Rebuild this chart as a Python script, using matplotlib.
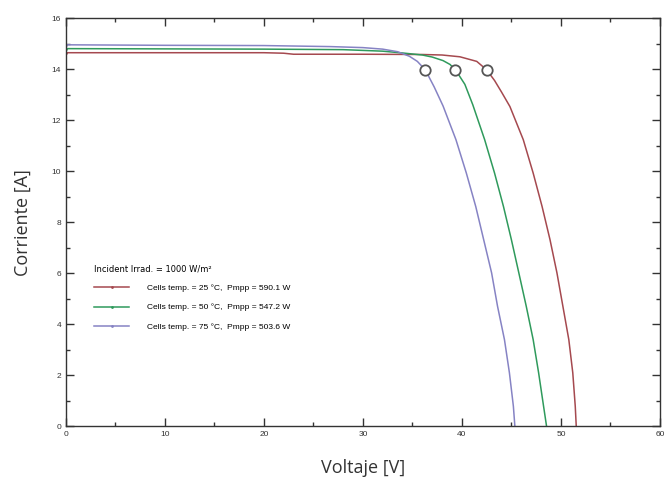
import matplotlib
matplotlib.use("Agg")
import matplotlib.pyplot as plt
from matplotlib.ticker import MultipleLocator

# curves (voltage in V, current in A)
v_25 = [0, 20, 22, 23, 30, 36, 38, 39.8, 41.5, 42.5, 43.3, 44.0, 44.85, 46.2, 47.2, 48.1, 48.9, 49.6, 50.2, 50.8, 51.2, 51.45, 51.55]
i_25 = [14.64, 14.64, 14.62, 14.58, 14.58, 14.57, 14.55, 14.48, 14.3, 13.97, 13.55, 13.1, 12.53, 11.23, 9.92, 8.61, 7.31, 6.01, 4.70, 3.39, 2.09, 0.78, 0]

v_50 = [0, 10, 20, 28, 32, 34, 36, 37.0, 38.1, 38.8, 39.35, 40.3, 41.1, 42.3, 43.3, 44.2, 45.0, 45.75, 46.5, 47.2, 47.75, 48.25, 48.55]
i_50 = [14.8, 14.79, 14.78, 14.76, 14.7, 14.63, 14.55, 14.47, 14.33, 14.18, 13.97, 13.4, 12.6, 11.23, 9.92, 8.61, 7.31, 6.01, 4.70, 3.39, 2.09, 0.78, 0]

v_75 = [0, 10, 20, 26.7, 30, 32, 33.5, 34.7, 35.5, 36.3, 37.2, 38.1, 39.4, 40.45, 41.4, 42.2, 43.0, 43.6, 44.3, 44.8, 45.2, 45.35]
i_75 = [14.95, 14.93, 14.92, 14.88, 14.84, 14.78, 14.68, 14.5, 14.3, 13.97, 13.3, 12.55, 11.23, 9.92, 8.61, 7.31, 6.01, 4.70, 3.39, 2.09, 0.78, 0]

mpp_v = [42.5, 39.35, 36.3]
mpp_i = [13.97, 13.97, 13.97]

labels = ["Cells temp. = 25 \u00b0C,  Pmpp = 590.1 W",
          "Cells temp. = 50 \u00b0C,  Pmpp = 547.2 W",
          "Cells temp. = 75 \u00b0C,  Pmpp = 503.6 W"]
colors = ["#a5494f", "#2f9a5c", "#8683c4"]

fig = plt.figure(figsize=(6.72, 4.87), dpi=100)
ax = fig.add_axes([0.098, 0.125, 0.884, 0.838])

curves = [(v_25, i_25), (v_50, i_50), (v_75, i_75)]
for (v, i), c, lab in zip(curves, colors, labels):
    ax.plot(v, i, color=c, lw=1.1, label=lab, marker=".", markevery=[0], ms=2)

ax.plot(mpp_v, mpp_i, ls="none", marker="o", ms=7.5, mfc="white",
        mec="#555555", mew=1.3, zorder=5)

ax.set_xlim(0, 60)
ax.set_ylim(0, 16)
ax.xaxis.set_major_locator(MultipleLocator(10))
ax.xaxis.set_minor_locator(MultipleLocator(5))
ax.yaxis.set_major_locator(MultipleLocator(2))
ax.yaxis.set_minor_locator(MultipleLocator(1))
ax.tick_params(which="both", direction="in", top=True, right=True,
               labelsize=6, labelcolor="#333333", color="#333333")
ax.tick_params(which="major", length=6, width=1)
ax.tick_params(which="minor", length=3, width=1)
for s in ax.spines.values():
    s.set_color("#333333")
    s.set_linewidth(1)
for t in ax.get_xticklabels() + ax.get_yticklabels():
    t.set_fontfamily("Liberation Sans")

ax.set_xlabel("Voltaje [V]", fontsize=13, family="Open Sans", color="#333333", labelpad=15)
ax.set_ylabel("Corriente [A]", fontsize=13, family="Open Sans", color="#333333", labelpad=14)

leg = ax.legend(loc="upper left", bbox_to_anchor=(0.035, 0.415), frameon=False,
                title="Incident Irrad. = 1000 W/m\u00b2", title_fontsize=6,
                prop={"family": "Liberation Sans", "size": 6},
                handlelength=4.2, handletextpad=2.2, labelspacing=1.35,
                alignment="left")

fig.savefig("out.png", dpi=100)
